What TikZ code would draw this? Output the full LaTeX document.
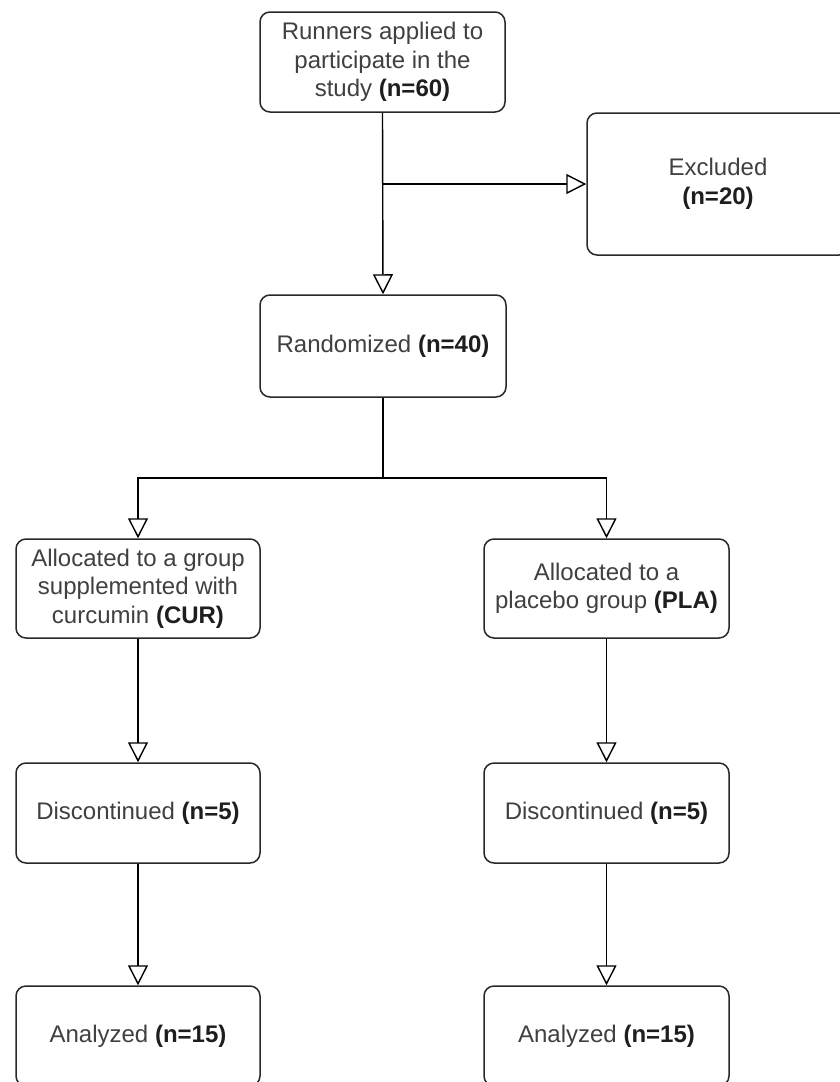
\documentclass[tikz,border=0pt]{standalone}
\usepackage{fontspec}
\setmainfont{Liberation Sans}
\usetikzlibrary{arrows.meta}
\definecolor{txt}{RGB}{64,64,64}
\definecolor{btxt}{RGB}{30,30,30}
\definecolor{edge}{RGB}{40,40,40}
\newcommand{\bn}[1]{{\bfseries\color{btxt}#1}}
\begin{document}
\begin{tikzpicture}[x=1pt,y=-1pt,
  box/.style={draw=edge, line width=1.5pt, rounded corners=10pt, fill=white,
    inner sep=0pt, align=center, text=txt,
    font=\fontsize{24}{28.5}\selectfont},
  arr/.style={draw=black, line width=1.4pt,
    -{Triangle[open,length=20pt,width=20pt,line width=1.4pt]}},
  ln/.style={draw=black, line width=1.4pt}]
\fill[white] (0,0) rectangle (840,1082);
\useasboundingbox (0,0) rectangle (840,1082);
\clip (0,0) rectangle (840,1082);

\node[box, minimum width=245pt, minimum height=100pt] (top) at (382.5,62)
  {Runners applied to\\participate in the\\study \bn{(n=60)}};
\node[box, minimum width=262pt, minimum height=142pt] (excl) at (718,184)
  {Excluded\\\bn{(n=20)}};
\node[box, minimum width=246pt, minimum height=102pt] (rand) at (383,346)
  {Randomized \bn{(n=40)}};
\node[box, minimum width=244pt, minimum height=99pt] (cur) at (138,588.5)
  {Allocated to a group\\supplemented with\\curcumin \bn{(CUR)}};
\node[box, minimum width=245pt, minimum height=99pt] (pla) at (606.5,588.5)
  {Allocated to a\\placebo group \bn{(PLA)}};
\node[box, minimum width=244pt, minimum height=100pt] (d1) at (138,813)
  {Discontinued \bn{(n=5)}};
\node[box, minimum width=245pt, minimum height=100pt] (d2) at (606.5,813)
  {Discontinued \bn{(n=5)}};
\node[box, minimum width=244pt, minimum height=100pt] (a1) at (138,1036)
  {Analyzed \bn{(n=15)}};
\node[box, minimum width=245pt, minimum height=100pt] (a2) at (606.5,1036)
  {Analyzed \bn{(n=15)}};

\coordinate (split) at (383,478);
\draw[arr] (top.south) -- (rand.north);
\draw[arr] (top.south |- excl.west) -- (excl.west);
\draw[ln] (rand.south) -- (split);
\draw[arr] (split) -| (cur.north);
\draw[arr] (split) -| (pla.north);
\draw[arr] (cur.south) -- (d1.north);
\draw[arr] (pla.south) -- (d2.north);
\draw[arr] (d1.south) -- (a1.north);
\draw[arr] (d2.south) -- (a2.north);
\end{tikzpicture}
\end{document}
